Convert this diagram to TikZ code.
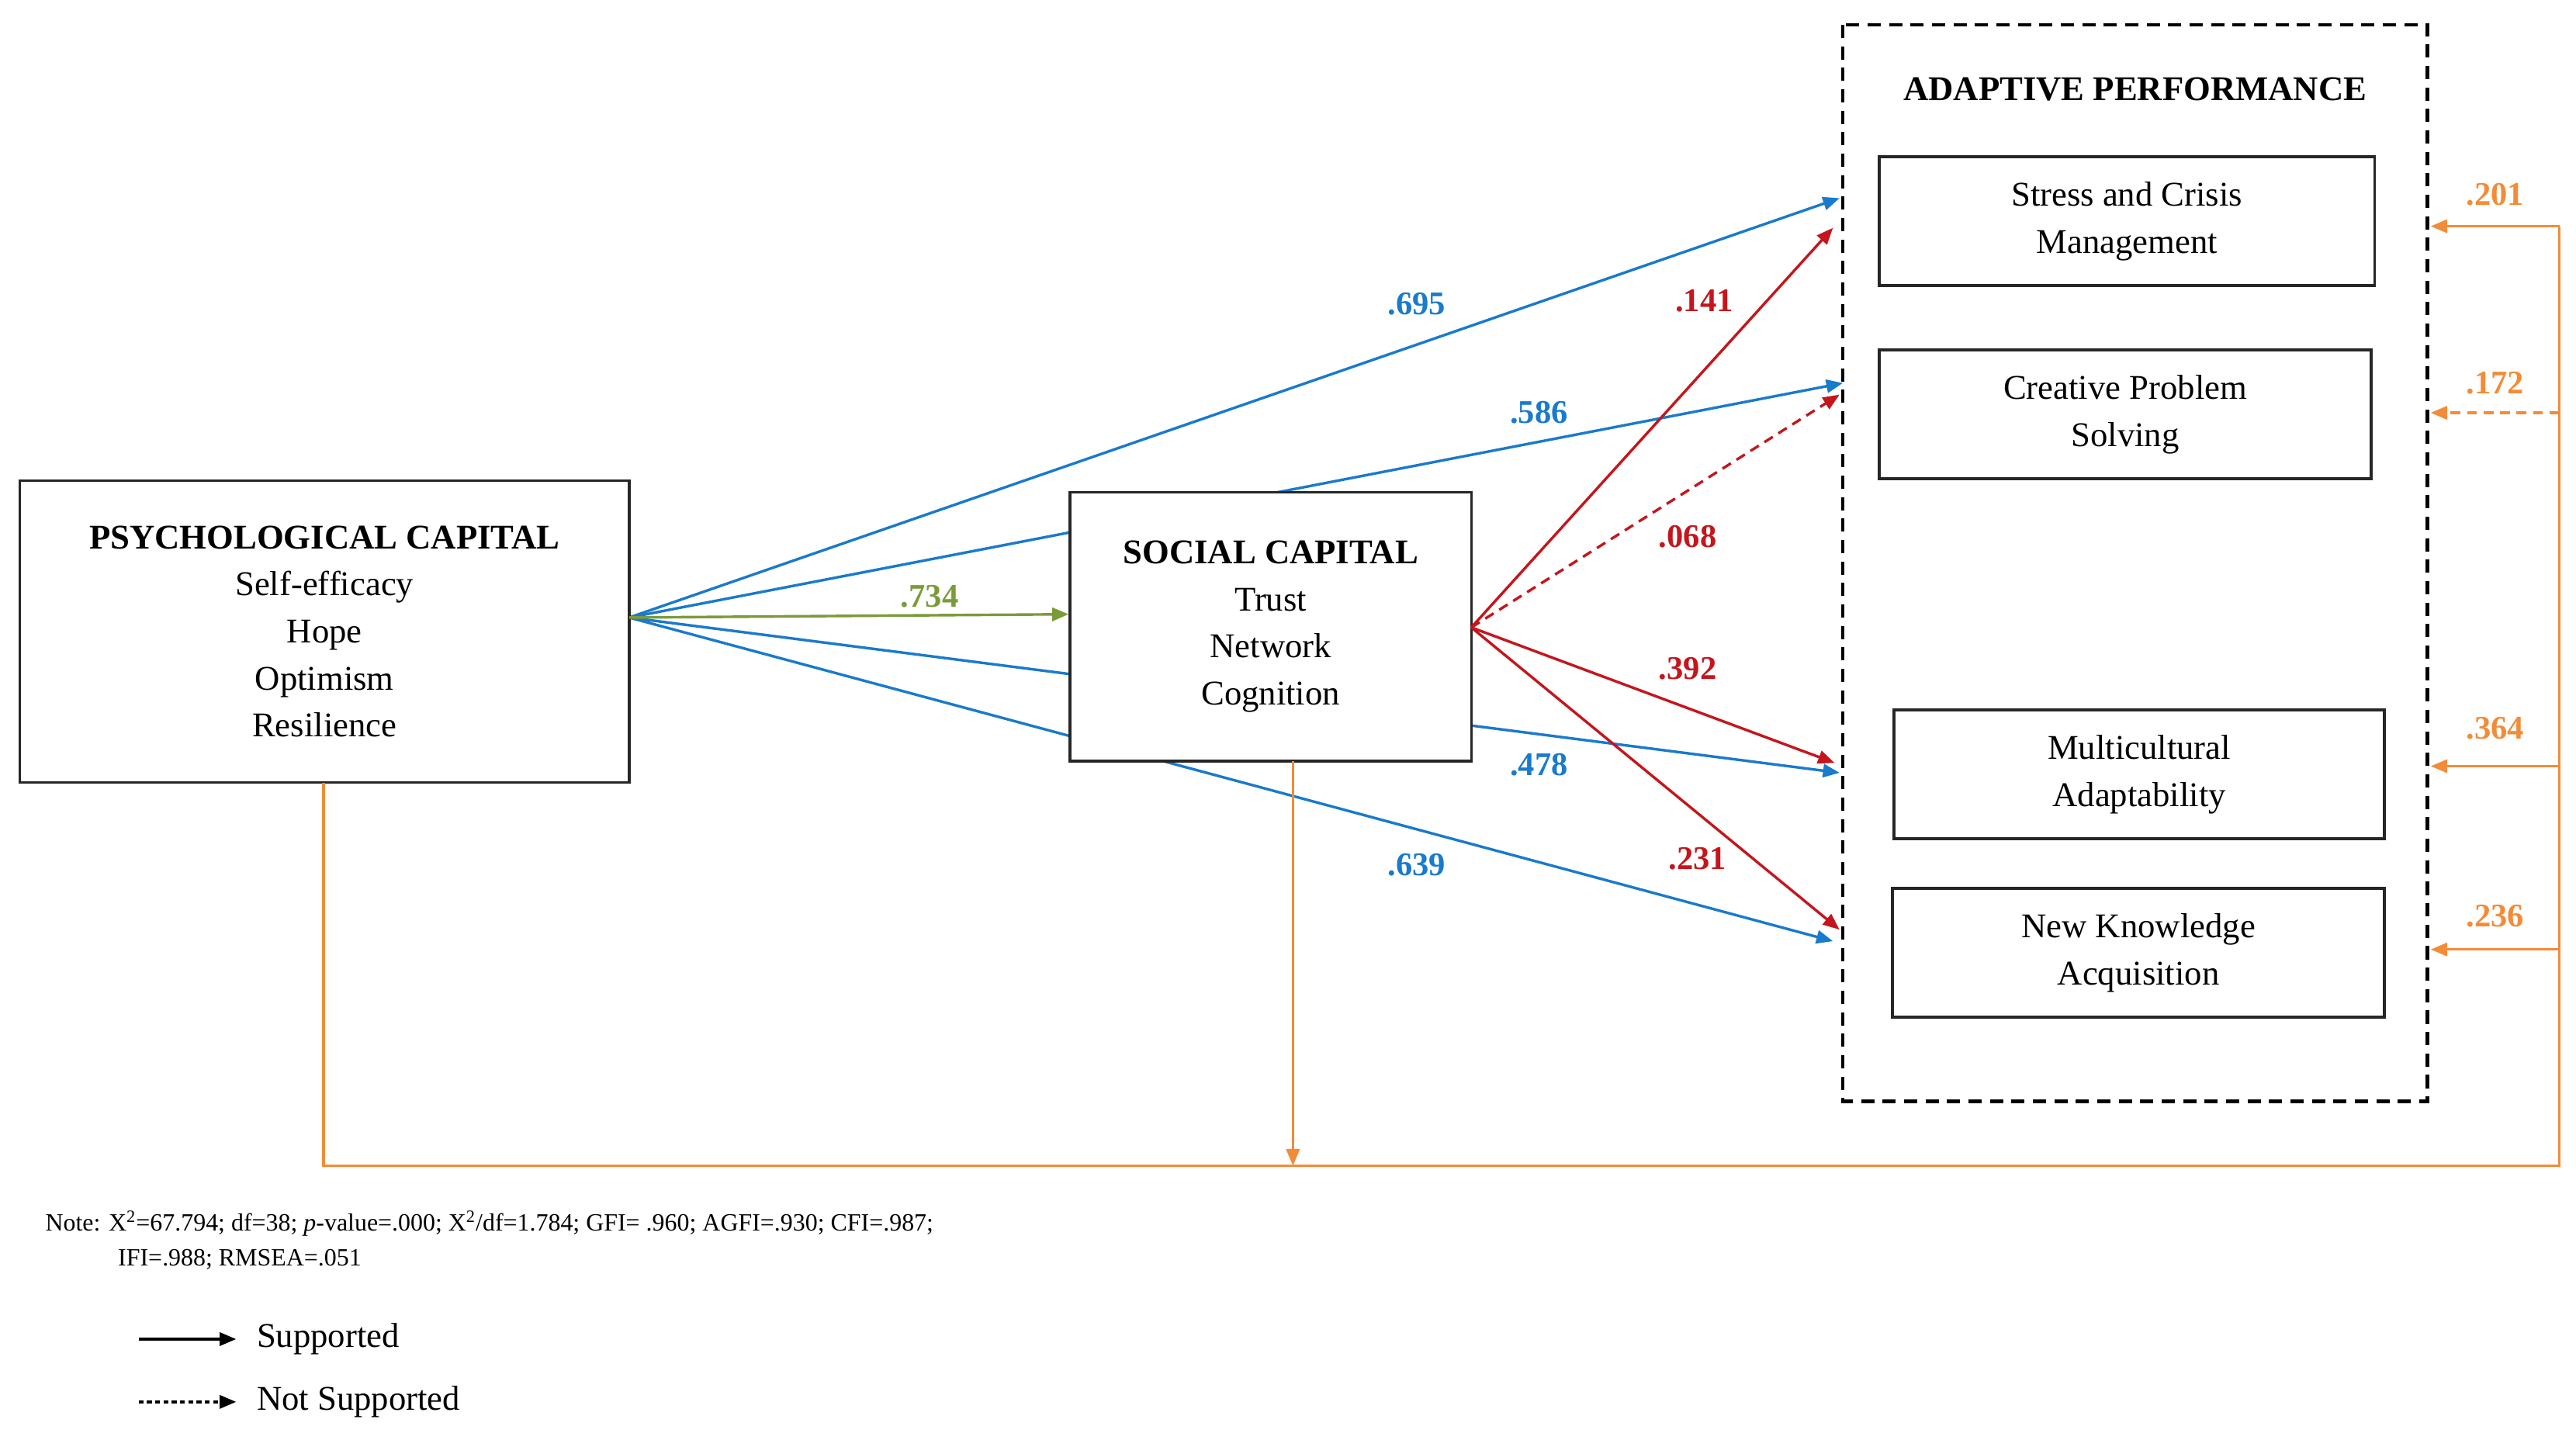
\documentclass[tikz,border=0pt]{standalone}
\usepackage{fontspec}
\setmainfont{Liberation Serif}
\usetikzlibrary{arrows.meta,backgrounds}
\definecolor{cblue}{HTML}{1A7ACB}
\definecolor{cred}{HTML}{C4161C}
\definecolor{corange}{HTML}{F28C38}
\definecolor{cgreen}{HTML}{7B9B3A}
\tikzset{
  box/.style={draw=black!85,line width=1.6pt,fill=white,align=center,inner sep=0pt,font=\fontsize{21}{28.5}\selectfont},
  arr/.style={line width=1.6pt,-{Triangle[length=10pt,width=8pt]}},
  lab/.style={font=\fontsize{20}{22}\selectfont\bfseries},
}
\begin{document}
\begin{tikzpicture}[x=1pt,y=-1pt]
\useasboundingbox (0,0) rectangle (1560,872);
\draw[line width=2pt,dash pattern=on 8pt off 5pt] (1116,15) rectangle (1470,667);
\node[font=\fontsize{21}{24}\selectfont\bfseries] (apt) at (1293,54) {ADAPTIVE PERFORMANCE};
\node[box,minimum width=369pt,minimum height=183pt] (pc) at (196.5,382.5) {\textbf{PSYCHOLOGICAL CAPITAL}\\Self-efficacy\\Hope\\Optimism\\Resilience};
\node[box,minimum width=243pt,minimum height=163pt] (sc) at (769.5,379.5) {\textbf{SOCIAL CAPITAL}\\Trust\\Network\\Cognition};
\node[box,minimum width=300pt,minimum height=78pt] (s1) at (1288,134) {Stress and Crisis\\Management};
\node[box,minimum width=298pt,minimum height=78pt] (s2) at (1287,251) {Creative Problem\\Solving};
\node[box,minimum width=297pt,minimum height=78pt] (s3) at (1295.5,469) {Multicultural\\Adaptability};
\node[box,minimum width=298pt,minimum height=78pt] (s4) at (1295,577) {New Knowledge\\Acquisition};
\coordinate (po) at (381,374);
\coordinate (so) at (891,380);
\coordinate (b1) at (1114,120);
\coordinate (b2) at (1116,232);
\coordinate (b3) at (1114,468);
\coordinate (b4) at (1110,570);
\coordinate (r1) at (1110,138);
\coordinate (r2) at (1114,239);
\coordinate (r3) at (1111,462);
\coordinate (r4) at (1114,563);
\coordinate (pb) at (196,474);
\coordinate (sb) at (783,461);
\coordinate (c1) at (196,706);
\coordinate (c2) at (783,706);
\coordinate (c3) at (1550,706);
\coordinate (c4) at (1550,137);
\begin{pgfonlayer}{background}
\draw[arr,cblue] (po) -- (b1);
\draw[arr,cblue] (po) -- (b2);
\draw[arr,cblue] (po) -- (b3);
\draw[arr,cblue] (po) -- (b4);
\end{pgfonlayer}
\draw[arr,cgreen] (po) -- (sc.west |- 0,372);
\draw[arr,cred] (so) -- (r1);
\draw[arr,cred,dash pattern=on 6pt off 4pt] (so) -- (r2);
\draw[arr,cred] (so) -- (r3);
\draw[arr,cred] (so) -- (r4);
\draw[line width=1.6pt,corange] (pb) -- (c1) -- (c3) -- (c4);
\draw[arr,corange] (sb) -- (c2);
\draw[arr,corange] (c4) -- (1472,137);
\draw[arr,corange,dash pattern=on 6pt off 4pt] (1550,250) -- (1472,250);
\draw[arr,corange] (1550,464) -- (1472,464);
\draw[arr,corange] (1550,575) -- (1472,575);
\node[lab,cblue] at (858,184) {.695};
\node[lab,cblue] at (932,250) {.586};
\node[lab,cblue] at (932,463) {.478};
\node[lab,cblue] at (858,524) {.639};
\node[lab,cgreen] at (563,361) {.734};
\node[lab,cred] at (1032,182) {.141};
\node[lab,cred] at (1022,325) {.068};
\node[lab,cred] at (1022,405) {.392};
\node[lab,cred] at (1028,520) {.231};
\node[lab,corange] at (1511,118) {.201};
\node[lab,corange] at (1511,232) {.172};
\node[lab,corange] at (1511,441) {.364};
\node[lab,corange] at (1511,555) {.236};
\node[anchor=west,font=\fontsize{15}{21}\selectfont,align=left] (note) at (24,751) {Note: X\textsuperscript{2}=67.794; df=38; \textit{p}-value=.000; X\textsuperscript{2}/df=1.784; GFI= .960; AGFI=.930; CFI=.987;\\\hspace*{44pt}IFI=.988; RMSEA=.051};
\coordinate (l1a) at (84,811); \coordinate (l1b) at (143,811);
\coordinate (l2a) at (84,849); \coordinate (l2b) at (143,849);
\draw[arr,black] (l1a) -- (l1b);
\draw[arr,black,dash pattern=on 3pt off 2pt] (l2a) -- (l2b);
\node[anchor=west,font=\fontsize{21}{24}\selectfont] (ls) at (152,811) {Supported};
\node[anchor=west,font=\fontsize{21}{24}\selectfont] (lns) at (152,849) {Not Supported};
\end{tikzpicture}
\end{document}
